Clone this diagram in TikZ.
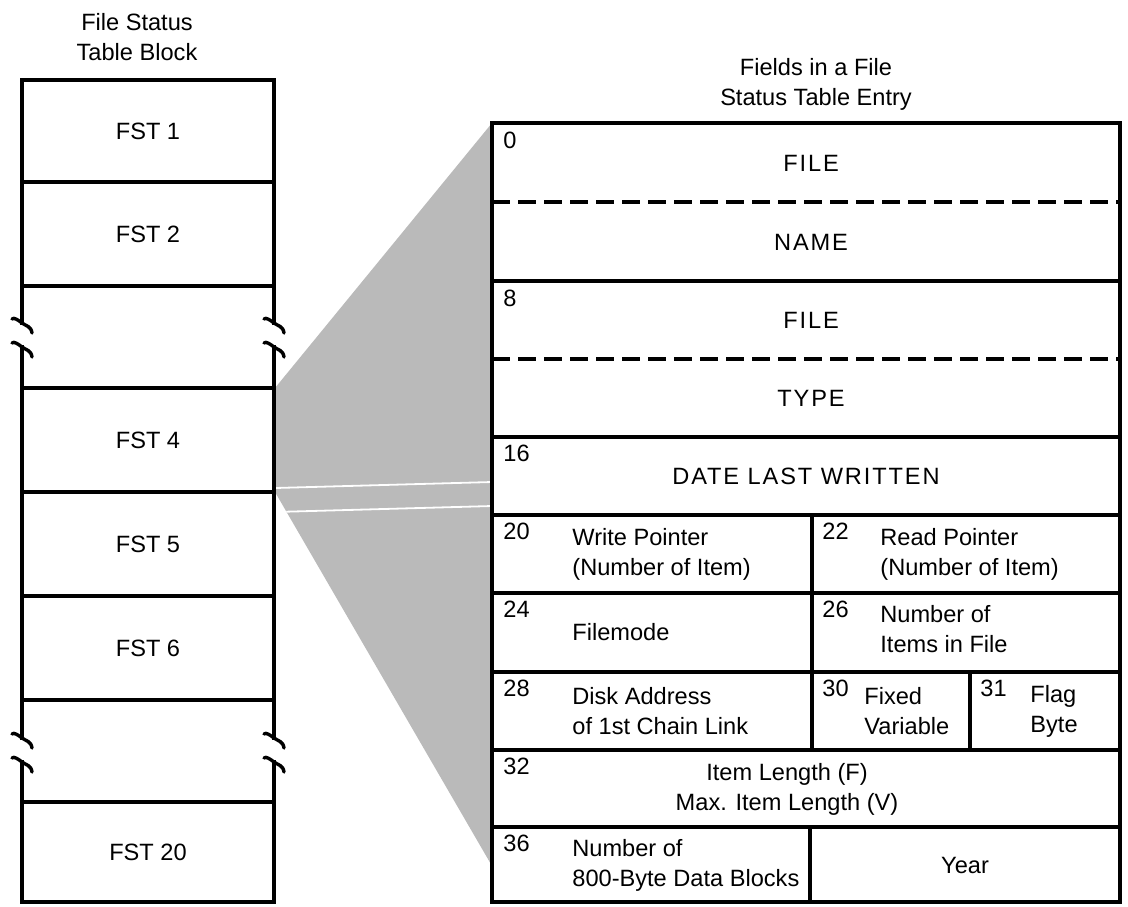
\documentclass[tikz,border=0pt]{standalone}
\usepackage{fontspec}
\setmainfont{Liberation Sans}
\newfontfamily\spacedfont[LetterSpace=8]{Liberation Sans}
\begin{document}
\begin{tikzpicture}[x=0.5pt,y=-0.5pt,
  every node/.style={font=\fontsize{11.8}{15}\selectfont, inner sep=0pt},
  frame/.style={line width=1.7pt, line cap=rect, line join=miter},
  dashrule/.style={line width=1.7pt, dash pattern=on 9pt off 4pt},
  capfield/.style={font=\spacedfont\fontsize{11.8}{15}\selectfont},
  numlbl/.style={anchor=north west},
  fldtxt/.style={anchor=west, align=left},
  fanfill/.style={fill=black!27},
  brkmark/.pic={\draw[line width=1.7pt, line cap=round]
     (-10,-4) .. controls (-8,-6) and (-4,-3) .. (0,0)
     .. controls (4,3) and (9,3) .. (10,10);}]
\useasboundingbox (0,0) rectangle (1128,906);

% shaded fan
\fill[fanfill] (275,388) -- (492,123) -- (492,866) -- (275,492) -- cycle;
\begin{scope}
  \clip (275,388) -- (492,123) -- (492,866) -- (275,492) -- cycle;
  \draw[white, line width=0.9pt] (275,488) -- (492,482);
  \draw[white, line width=0.9pt] (275,512) -- (492,506);
\end{scope}

% titles
\node[align=center] (ltitle) at (137,37) {File Status\\Table Block};
\node[align=center] (rtitle) at (816,84) {Fields in a File\\Status Table Entry};

% left column
\foreach \yy in {80,182,286,388,492,596,700,802,902}
  \draw[frame] (22,\yy) -- (274,\yy);
\foreach \xx in {22,274} {
  \draw[frame] (\xx,80) -- (\xx,323);
  \draw[frame] (\xx,347) -- (\xx,738);
  \draw[frame] (\xx,762) -- (\xx,902);
  \pic at (\xx,323) {brkmark};
  \pic at (\xx,347) {brkmark};
  \pic at (\xx,738) {brkmark};
  \pic at (\xx,762) {brkmark};
}
\node (fst1) at (148,131) {FST 1};
\node (fst2) at (148,234) {FST 2};
\node (fst4) at (148,440) {FST 4};
\node (fst5) at (148,544) {FST 5};
\node (fst6) at (148,648) {FST 6};
\node (fst20) at (148,852) {FST 20};

% right table
\draw[frame] (492,123) rectangle (1120,902);
\foreach \yy in {281,437,515,593,672,750,827}
  \draw[frame] (492,\yy) -- (1120,\yy);
\draw[dashrule] (492,202) -- (1120,202);
\draw[dashrule] (492,359) -- (1120,359);
\draw[frame] (812,515) -- (812,750);
\draw[frame] (970,672) -- (970,750);
\draw[frame] (810,827) -- (810,902);

% offsets
\node[numlbl] (n0) at (503,132) {0};
\node[numlbl] (n8) at (503,290) {8};
\node[numlbl] (n16) at (503,445) {16};
\node[numlbl] (n20) at (503,523) {20};
\node[numlbl] (n22) at (822,523) {22};
\node[numlbl] (n24) at (503,601) {24};
\node[numlbl] (n26) at (822,601) {26};
\node[numlbl] (n28) at (503,680) {28};
\node[numlbl] (n30) at (822,680) {30};
\node[numlbl] (n31) at (980,680) {31};
\node[numlbl] (n32) at (503,758) {32};
\node[numlbl] (n36) at (503,835) {36};

% fields
\node[capfield] (file1) at (811,163) {FILE};
\node[capfield] (name) at (811,242) {NAME};
\node[capfield] (file2) at (811,320) {FILE};
\node[capfield] (type) at (811,398) {TYPE};
\node[capfield] (date) at (806,476) {DATE LAST WRITTEN};
\node[fldtxt] (wptr) at (572,554) {Write Pointer\\(Number of Item)};
\node[fldtxt] (rptr) at (880,554) {Read Pointer\\(Number of Item)};
\node[fldtxt] (fmode) at (572,632) {Filemode};
\node[fldtxt] (nitems) at (880,629) {Number of\\Items in File};
\node[fldtxt] (disk) at (572,711) {Disk Address\\of 1st Chain Link};
\node[fldtxt] (fixvar) at (864,711) {Fixed\\Variable};
\node[fldtxt] (flag) at (1030,711) {Flag\\Byte};
\node[align=center] (ilen) at (787,789) {Item Length (F)\\Max. Item Length (V)};
\node[fldtxt] (nblk) at (572,865) {Number of\\800-Byte Data Blocks};
\node (year) at (965,865) {Year};
\end{tikzpicture}
\end{document}
